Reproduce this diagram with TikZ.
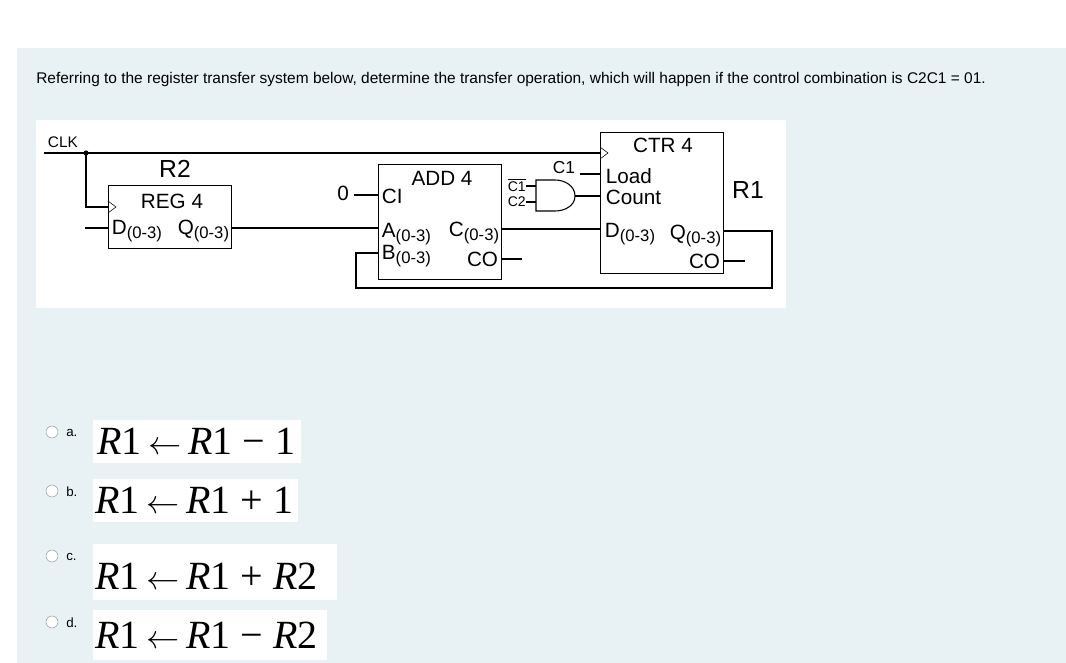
\documentclass[tikz,border=0pt]{standalone}
\usepackage{fontspec}
\setmainfont{Liberation Sans}
\newfontfamily\eqfont{Liberation Serif}
\usetikzlibrary{positioning}
\definecolor{panel}{HTML}{E8F2F5}
\definecolor{ring}{HTML}{9A9A9A}
\tikzset{
  blk/.style    = {draw, thick, anchor=north west, inner sep=0pt},
  pin/.style    = {font=\fontsize{15.5}{16}\selectfont, inner sep=0.5pt},
  title/.style  = {font=\fontsize{18.5}{19}\selectfont, inner sep=0pt},
  wire/.style   = {thick},
  eqbox/.style  = {fill=white, anchor=north west, inner sep=0pt},
  eq/.style     = {font=\eqfont\fontsize{30}{31}\selectfont, anchor=west, inner sep=0pt},
  radio/.style  = {draw=ring, fill=white, circle, minimum size=9pt, inner sep=0pt},
  opt/.style    = {font=\fontsize{10}{11}\selectfont, anchor=west, inner sep=0pt}
}
\newcommand{\sub}[1]{\raisebox{-0.35ex}{\fontsize{12.5}{13}\selectfont(#1)}}
\newcommand{\larr}{\,$\leftarrow$\,}
\begin{document}
\begin{tikzpicture}[x=0.75pt, y=-0.75pt]
\useasboundingbox (0,0) rectangle (1066,663);
\fill[panel] (17,48) rectangle (1066,663);
\fill[white] (36,120) rectangle (786,308);

% question
\node[anchor=west, inner sep=0pt, font=\fontsize{11.6}{13}\selectfont] (q) at (36,80)
  {Referring to the register transfer system below, determine the transfer operation, which will happen if the control combination is C2C1 = 01.};

% blocks
\node[blk, minimum width=92.25pt, minimum height=47.25pt] (reg) at (108,185) {};
\node[blk, minimum width=92.25pt, minimum height=86.25pt] (add) at (378,164) {};
\node[blk, minimum width=92.25pt, minimum height=105.75pt] (ctr) at (600,132) {};

% R2
\node[title] (r2) at (175,169) {R2};
\node[pin] (regt) at (172,201) {REG 4};
\node[pin, anchor=west] (regd) at (111,231) {D\sub{0-3}};
\node[pin, anchor=east] (regq) at (230,231) {Q\sub{0-3}};

% adder
\node[pin] (addt) at (442,178) {ADD 4};
\node[pin, anchor=west] (addci) at (381,196) {CI};
\node[pin, anchor=west] (adda) at (381,234) {A\sub{0-3}};
\node[pin, anchor=west] (addb) at (381,256) {B\sub{0-3}};
\node[pin, anchor=east] (addc) at (500,233) {C\sub{0-3}};
\node[pin, anchor=east] (addco) at (499,259) {CO};
\node[pin] (zero) at (343,193) {0};

% counter
\node[pin] (ctrt) at (663,145) {CTR 4};
\node[pin, anchor=west] (load) at (605,176) {Load};
\node[pin, anchor=west] (count) at (605,197) {Count};
\node[pin, anchor=west] (ctrd) at (604,234) {D\sub{0-3}};
\node[pin, anchor=east] (ctrq) at (722,236) {Q\sub{0-3}};
\node[pin, anchor=east] (ctrco) at (721,261) {CO};
\node[title] (r1) at (748,190) {R1};

% control labels
\node[pin, font=\fontsize{13}{14}\selectfont] (c1a) at (564,168) {C1};
\node[pin, font=\fontsize{10.5}{11}\selectfont, anchor=east, inner sep=0pt] (c1b) at (526,185) {$\overline{\mbox{C1}}$};
\node[pin, font=\fontsize{10.5}{11}\selectfont, anchor=east, inner sep=0pt] (c2) at (526,202) {C2};
\node[pin, anchor=west, font=\fontsize{11.5}{12}\selectfont] (clk) at (47,142) {CLK};

% AND gate
\coordinate (g1) at (536,180);
\coordinate (g2) at (536,211);
\coordinate (gout) at (575,196);
\draw[wire] (g1) -- (555,180) to[out=0, in=90] (gout) to[out=-90, in=0] (555,211) -- (g2) -- cycle;

% clock
\coordinate (clkin) at (44,153);
\coordinate (clkdot) at (86,153);
\fill (clkdot) circle (2.6);
\draw[wire] (clkin) -- (ctr.north west |- clkin);
\draw[wire] (clkdot) |- (reg.west |- 0,207);
\draw[thin] (108,201) -- (116,207) -- (108,213);
\draw[thin] (600,147) -- (608,153) -- (600,159);

% wires
\draw[wire] (85,228) -- (reg.west |- 0,228);
\draw[wire] (reg.east |- 0,228) -- (add.west |- 0,228);
\draw[wire] (354,195) -- (add.west |- 0,195);
\draw[wire] (add.east |- 0,229) -- (ctr.west |- 0,229);
\draw[wire] (add.east |- 0,259) -- (522,259);
\draw[wire] (ctr.east |- 0,261) -- (745,261);
\draw[wire] (580,174) -- (ctr.west |- 0,174);
\draw[wire] (c1b.east |- 0,186) -- (g1 |- 0,186);
\draw[wire] (c2.east |- 0,202) -- (g1 |- 0,202);
\draw[wire] (gout) -- (ctr.west |- gout);
\draw[wire] (ctr.east |- 0,231) -- (772,231) -- (772,288) -- (356,288) -- (356,253) -- (add.west |- 0,253);

% options
\foreach \n/\l/\y/\w/\h in {oa/a./420/208/43, ob/b./479/205/43, oc/c./544/244/56, od/d./610/234/50}{
  \fill[white] (93,\y) rectangle ++(\w,\h);
  \node[radio] (r\n) at (52,\y+12) {};
  \node[opt] (l\n) at (66,\y+13) {\l};
}
\node[eq] (ea) at (97,441) {\textit{R}1\larr\textit{R}1 − 1};
\node[eq] (eb) at (95,500) {\textit{R}1\larr\textit{R}1 + 1};
\node[eq] (ec) at (95,576) {\textit{R}1\larr\textit{R}1 + \textit{R}2};
\node[eq] (ed) at (95,635) {\textit{R}1\larr\textit{R}1 − \textit{R}2};
\end{tikzpicture}
\end{document}
